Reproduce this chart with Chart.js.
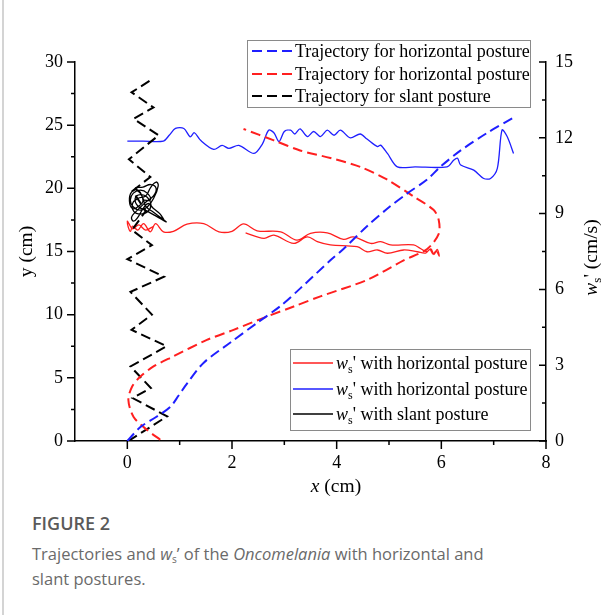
<!DOCTYPE html>
<html>
<head>
<meta charset="utf-8">
<script src="https://cdn.jsdelivr.net/npm/chart.js@4.4.0/dist/chart.umd.min.js"></script>
<style>
  html, body { margin: 0; padding: 0; background: #fff; }
  #page { position: relative; width: 612px; height: 615px; overflow: hidden; }
  #edge { position: absolute; left: 2px; top: 0; width: 2px; height: 615px; background: #d4d4d4; }
  #plot { position: absolute; left: 0; top: 0; width: 612px; height: 505px; }
  .fig { position: absolute; left: 32px; top: 511px; font-family: "Open Sans", sans-serif; font-size: 18px; font-weight: 600; color: #5a5a5a; line-height: 24px; }
  .cap { position: absolute; left: 32px; top: 541px; width: 460px; font-family: "Open Sans", sans-serif; font-size: 16.5px; color: #6a6a6a; line-height: 25px; }
  .cap sub { font-size: 10px; line-height: 0; vertical-align: -0.3em; }
</style>
</head>
<body>
<div id="page">
  <div id="edge"></div>
  <div id="plot"><canvas id="grafico"></canvas></div>
  <div class="fig">FIGURE 2</div>
  <div class="cap">Trajectories and <i>w</i><sub>s</sub>&#8217; of the <i>Oncomelania</i> with horizontal and slant postures.</div>
</div>
<script>
// trajectories (x, y in cm)
var blueTrajX = [0, 0.25, 0.55, 0.82, 0.98, 1.14, 1.46, 1.97, 2.48, 2.93, 3.31, 3.88, 4.13, 4.58, 5.0, 5.35, 5.73, 5.98, 6.37, 6.88, 7.38];
var blueTrajY = [0, 1.1, 1.9, 2.7, 3.6, 4.55, 6.2, 7.8, 9.35, 10.7, 12.1, 14.3, 15.2, 17.0, 18.5, 19.6, 20.7, 21.7, 23.0, 24.4, 25.6];

var redTrajX = [0.63, 0.37, 0.12, 0.02, 0.09, 0.25, 0.5, 0.88, 1.52, 2.03, 2.67, 3.18, 3.69, 4.58, 5.28, 5.73, 5.95, 5.95, 5.85, 5.47, 4.96, 4.45, 3.88, 3.3, 2.8, 2.22];
var redTrajY = [0.1, 0.9, 1.9, 3.25, 4.3, 5.1, 5.9, 6.7, 8.0, 8.8, 9.85, 10.65, 11.45, 12.75, 14.3, 15.2, 16.4, 17.5, 18.3, 19.35, 20.7, 21.7, 22.4, 23.0, 23.8, 24.7];

var slantTrajX = [0.02, 0.76, 0.1, 0.45, 0.06, 0.75, 0.08, 0.47, 0.06, 0.7, 0.0, 0.47, 0.09, 0.35, 0.1, 0.44, 0.03, 0.6, 0.12, 0.5, 0.08, 0.5];
var slantTrajY = [0, 1.95, 3.4, 4.2, 5.9, 7.5, 8.8, 10.0, 11.8, 13.0, 14.4, 15.5, 16.7, 18.2, 19.8, 20.9, 22.3, 24.2, 25.5, 26.4, 27.6, 28.7];

// ws' (cm/s) along x
var redWsX = [0.5, 0.35, 0.22, 0.1, 0.03, 0.0, 0.02, 0.06, 0.1, 0.2, 0.31, 0.44, 0.54, 0.69, 0.88, 1.14, 1.46, 1.75, 2.0, 2.22, 2.48, 2.93, 3.24, 3.5, 3.82, 4.13, 4.32, 4.65, 4.84, 5.03, 5.47, 5.6, 5.72, 5.8, 5.86, 5.92, 5.96, 5.9, 5.84, 5.78, 5.7, 5.54, 5.28, 4.97, 4.78, 4.58, 4.39, 3.88, 3.63, 3.44, 3.18, 2.8, 2.61, 2.26];
var redWs = [8.5, 8.35, 8.55, 8.4, 8.6, 8.7, 8.45, 8.3, 8.5, 8.35, 8.6, 8.28, 8.6, 8.28, 8.3, 8.58, 8.6, 8.28, 8.3, 8.59, 8.32, 8.28, 7.95, 8.22, 8.24, 7.98, 8.08, 7.82, 7.89, 7.76, 7.76, 7.62, 7.5, 7.6, 7.38, 7.58, 7.32, 7.52, 7.4, 7.58, 7.44, 7.49, 7.56, 7.43, 7.56, 7.49, 7.69, 7.76, 7.89, 8.08, 7.82, 8.15, 8.02, 8.24];

var blueWsX = [0, 0.3, 0.69, 0.8, 0.92, 1.08, 1.2, 1.28, 1.4, 1.65, 1.81, 1.94, 2.13, 2.42, 2.58, 2.7, 2.8, 2.9, 3.0, 3.12, 3.2, 3.3, 3.44, 3.56, 3.69, 3.82, 3.95, 4.07, 4.26, 4.45, 4.58, 4.78, 4.84, 4.97, 5.16, 5.5, 6.11, 6.24, 6.31, 6.37, 6.62, 6.81, 6.94, 7.07, 7.16, 7.26, 7.38];
var blueWs = [11.87, 11.87, 11.87, 12.1, 12.37, 12.37, 12.04, 12.2, 11.9, 11.54, 11.7, 11.58, 11.7, 11.38, 11.75, 12.3, 12.2, 11.85, 12.25, 12.3, 12.15, 12.35, 12.05, 12.25, 12.05, 12.3, 12.1, 12.3, 12.0, 12.15, 11.95, 11.65, 11.71, 11.38, 10.85, 10.85, 10.85, 11.12, 11.19, 10.92, 10.72, 10.39, 10.39, 10.79, 12.31, 12.04, 11.38];

var slantWsX = [0.3, 0.44, 0.38, 0.25, 0.115, 0.057, 0.115, 0.25, 0.38, 0.5, 0.59, 0.55, 0.45, 0.35, 0.2, 0.1, 0.12, 0.25, 0.4, 0.45, 0.38, 0.25, 0.15, 0.2, 0.38, 0.55, 0.74, 0.67, 0.5, 0.35, 0.3, 0.2, 0.08, 0.04, 0.1, 0.22, 0.3, 0.25, 0.15, 0.3, 0.45, 0.55, 0.5, 0.35, 0.15, 0.08, 0.12, 0.2, 0.3, 0.4, 0.5, 0.62, 0.7];
var slantWs = [9.54, 9.54, 9.81, 9.93, 9.81, 9.54, 9.26, 9.14, 9.26, 9.6, 10.1, 10.25, 10.05, 9.7, 9.6, 9.4, 9.1, 8.98, 9.1, 9.38, 9.65, 9.75, 9.6, 9.3, 9.1, 8.9, 8.67, 8.8, 9.05, 9.3, 9.6, 9.93, 9.85, 9.5, 9.2, 9.3, 9.5, 9.8, 10.0, 10.05, 10.15, 10.0, 9.7, 9.45, 9.05, 8.85, 8.7, 8.85, 9.2, 9.4, 9.2, 9.0, 8.75];

// axis ticks
var xMajor = [0, 2, 4, 6, 8];
var xMinor = [1, 3, 5, 7];
var yMajor = [0, 5, 10, 15, 20, 25, 30];
var yMinor = [2.5, 7.5, 12.5, 17.5, 22.5, 27.5];
var wMajor = [0, 3, 6, 9, 12, 15];
var wMinor = [1.5, 4.5, 7.5, 10.5, 13.5];

var trajLabel = ['Trajectory for horizontal posture', 'Trajectory for horizontal posture', 'Trajectory for slant posture'];
var wsLabel = [' with horizontal posture', ' with horizontal posture', ' with slant posture'];

var serif = '"Liberation Serif", "Times New Roman", serif';

function pares(xs, ys) {
  return xs.map(function (v, i) { return { x: v, y: ys[i] }; });
}

function trajeto(xs, ys, cor, label, suave) {
  return {
    label: label, data: pares(xs, ys), yAxisID: 'y', showLine: true,
    borderColor: cor, borderWidth: 2, borderDash: [10, 5], tension: suave,
    pointRadius: 0, fill: false
  };
}

function velocidade(xs, ys, cor, label, suave) {
  return {
    label: label, data: pares(xs, ys), yAxisID: 'yR', showLine: true,
    borderColor: cor, borderWidth: 1.3, tension: suave,
    pointRadius: 0, fill: false
  };
}

var datasets = [
  trajeto(blueTrajX, blueTrajY, '#1f1fff', trajLabel[0], 0.3),
  trajeto(redTrajX, redTrajY, '#ff1f1f', trajLabel[1], 0.3),
  trajeto(slantTrajX, slantTrajY, '#000000', trajLabel[2], 0),
  velocidade(redWsX, redWs, '#ff1f1f', wsLabel[0], 0.35),
  velocidade(blueWsX, blueWs, '#1f1fff', wsLabel[1], 0.3),
  velocidade(slantWsX, slantWs, '#000000', wsLabel[2], 0.45)
];

function fixTicks(lista) {
  return function (s) { s.ticks = lista.map(function (v) { return { value: v }; }); };
}

// w + subscript s + prime, then the rest
function escreveWs(ctx, x, y, resto, tam) {
  ctx.font = 'italic ' + tam + 'px ' + serif;
  ctx.fillText('w', x, y);
  x += ctx.measureText('w').width;
  ctx.font = Math.round(tam * 0.66) + 'px ' + serif;
  ctx.fillText('s', x, y + tam * 0.3);
  x += ctx.measureText('s').width;
  ctx.font = tam + 'px ' + serif;
  ctx.fillText("'" + resto, x, y);
}

function larguraWs(ctx, resto, tam) {
  ctx.font = 'italic ' + tam + 'px ' + serif;
  var w = ctx.measureText('w').width;
  ctx.font = Math.round(tam * 0.66) + 'px ' + serif;
  w += ctx.measureText('s').width;
  ctx.font = tam + 'px ' + serif;
  return w + ctx.measureText("'" + resto).width;
}

var enfeites = {
  id: 'enfeites',
  afterDraw: function (chart) {
    var ctx = chart.ctx;
    var sx = chart.scales.x, sy = chart.scales.y, sw = chart.scales.yR;
    var a = chart.chartArea;
    ctx.save();
    ctx.strokeStyle = '#000';
    ctx.lineWidth = 1.5;
    ctx.beginPath();
    xMajor.forEach(function (v) { var p = sx.getPixelForValue(v); ctx.moveTo(p, a.bottom); ctx.lineTo(p, a.bottom + 8); });
    xMinor.forEach(function (v) { var p = sx.getPixelForValue(v); ctx.moveTo(p, a.bottom); ctx.lineTo(p, a.bottom + 4); });
    yMajor.forEach(function (v) { var p = sy.getPixelForValue(v); ctx.moveTo(a.left, p); ctx.lineTo(a.left - 8, p); });
    yMinor.forEach(function (v) { var p = sy.getPixelForValue(v); ctx.moveTo(a.left, p); ctx.lineTo(a.left - 4, p); });
    wMajor.forEach(function (v) { var p = sw.getPixelForValue(v); ctx.moveTo(a.right, p); ctx.lineTo(a.right - 7, p); });
    wMinor.forEach(function (v) { var p = sw.getPixelForValue(v); ctx.moveTo(a.right, p); ctx.lineTo(a.right - 4, p); });
    ctx.stroke();

    // axis titles
    ctx.fillStyle = '#000';
    ctx.textBaseline = 'middle';
    var t1 = 'x', t2 = ' (cm)';
    ctx.font = 'italic 19.5px ' + serif;
    var w1 = ctx.measureText(t1).width;
    ctx.font = '19.5px ' + serif;
    var w2 = ctx.measureText(t2).width;
    var cx = 336 - (w1 + w2) / 2;
    ctx.font = 'italic 19.5px ' + serif;
    ctx.textAlign = 'left';
    ctx.fillText(t1, cx, 487);
    ctx.font = '19.5px ' + serif;
    ctx.fillText(t2, cx + w1, 487);

    ctx.save();
    ctx.translate(27, (a.top + a.bottom) / 2);
    ctx.rotate(-Math.PI / 2);
    ctx.textAlign = 'center';
    ctx.fillText('y (cm)', 0, 0);
    ctx.restore();

    ctx.save();
    ctx.translate(592, (a.top + a.bottom) / 2 + 6);
    ctx.rotate(-Math.PI / 2);
    ctx.textAlign = 'left';
    var lw = larguraWs(ctx, ' (cm/s)', 19.5);
    escreveWs(ctx, -lw / 2, 0, ' (cm/s)', 19.5);
    ctx.restore();

    // legend boxes
    var ds = chart.data.datasets;
    ctx.lineWidth = 1;
    ctx.strokeStyle = '#8a8a8a';
    ctx.fillStyle = '#fff';
    ctx.fillRect(247.5, 40.5, 283, 67);
    ctx.strokeRect(247.5, 40.5, 283, 67);
    ctx.fillRect(290.5, 349.5, 240, 81);
    ctx.strokeRect(290.5, 349.5, 240, 81);

    var linhas1 = [51, 74, 96];
    for (var i = 0; i < 3; i++) {
      var d = ds[i];
      ctx.beginPath();
      ctx.setLineDash(d.borderDash);
      ctx.strokeStyle = d.borderColor;
      ctx.lineWidth = 2;
      ctx.moveTo(252, linhas1[i]);
      ctx.lineTo(292, linhas1[i]);
      ctx.stroke();
      ctx.setLineDash([]);
      ctx.fillStyle = '#000';
      ctx.font = '18px ' + serif;
      ctx.textAlign = 'left';
      ctx.fillText(d.label, 295, linhas1[i] + 1);
    }
    var linhas2 = [363, 389, 414];
    for (var j = 0; j < 3; j++) {
      var e = ds[3 + j];
      ctx.beginPath();
      ctx.strokeStyle = e.borderColor;
      ctx.lineWidth = 1.5;
      ctx.moveTo(293, linhas2[j]);
      ctx.lineTo(333, linhas2[j]);
      ctx.stroke();
      ctx.fillStyle = '#000';
      escreveWs(ctx, 336, linhas2[j] + 1, e.label, 18);
    }
    ctx.restore();
  }
};

var ctx = document.getElementById('grafico').getContext('2d');

var grafico = new Chart(ctx, {
  type: 'scatter',
  data: { datasets: datasets },
  options: {
    responsive: true,
    maintainAspectRatio: false,
    animation: false,
    layout: { padding: { top: 62, left: 0, right: 0, bottom: 0 } },
    plugins: { legend: { display: false }, tooltip: { enabled: false } },
    scales: {
      x: {
        type: 'linear', position: 'bottom', min: -1, max: 8,
        afterBuildTicks: fixTicks(xMajor),
        afterFit: function (s) { s.height = 64; },
        grid: { display: false, drawTicks: true, tickLength: 8 },
        border: { display: true, color: '#000', width: 1.5 },
        ticks: { color: '#000', padding: 3, maxRotation: 0, font: { family: serif, size: 18 } }
      },
      y: {
        type: 'linear', position: 'left', min: 0, max: 30,
        afterBuildTicks: fixTicks(yMajor),
        afterFit: function (s) { s.width = 75; },
        grid: { display: false, drawTicks: true, tickLength: 8 },
        border: { display: true, color: '#000', width: 1.5 },
        ticks: { color: '#000', padding: 4, font: { family: serif, size: 18 } }
      },
      yR: {
        type: 'linear', position: 'right', min: 0, max: 15,
        afterBuildTicks: fixTicks(wMajor),
        afterFit: function (s) { s.width = 66; },
        grid: { display: false, drawTicks: false },
        border: { display: true, color: '#000', width: 1.5 },
        ticks: { color: '#000', padding: 9, font: { family: serif, size: 18 } }
      }
    }
  },
  plugins: [enfeites]
});
</script>
</body>
</html>
